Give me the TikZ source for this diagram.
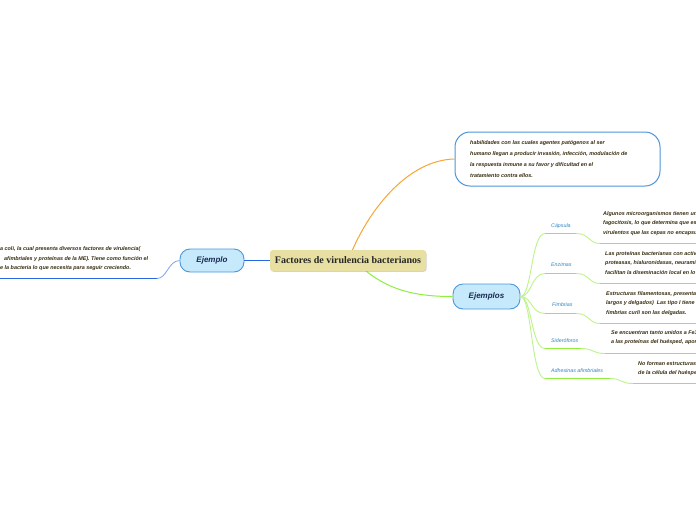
\documentclass[tikz,border=0pt]{standalone}
\usepackage{fontspec}
\setmainfont{Liberation Sans}
\newfontfamily\titlefont{Liberation Serif}
\usetikzlibrary{shadows}
\definecolor{txt}{HTML}{352B0E}
\definecolor{navy}{HTML}{1B2A52}
\definecolor{boxblue}{HTML}{4A97DA}
\definecolor{lightblue}{HTML}{C6E9FB}
\definecolor{labblue}{HTML}{2F86C6}
\definecolor{orangeline}{HTML}{F7A535}
\definecolor{blueline}{HTML}{2A68E2}
\definecolor{greenline}{HTML}{8EEF3E}
\definecolor{palegreen}{HTML}{BDF38A}
\definecolor{khaki}{HTML}{E7E0A2}
\tikzset{
  bodytext/.style={font=\fontsize{5.4}{9.2}\selectfont\bfseries\itshape, text=txt, align=left, inner sep=0pt},
  toptext/.style={font=\fontsize{5.4}{11}\selectfont\bfseries\itshape, text=txt, align=left, inner sep=0pt},
  sublabel/.style={font=\fontsize{5.3}{6}\selectfont\itshape, text=labblue, inner sep=0pt},
  topicbox/.style={draw=boxblue, line width=0.9pt, fill=lightblue, rounded corners=10pt,
     font=\fontsize{8}{9}\selectfont\bfseries\itshape, text=navy, inner sep=0pt},
  centralbox/.style={fill=khaki, rounded corners=3pt, drop shadow={shadow xshift=0.6pt, shadow yshift=-0.8pt, opacity=0.35},
     font=\titlefont\fontsize{10}{11}\selectfont\bfseries, text=black!85, inner sep=0pt},
  notebox/.style={draw=boxblue, line width=1pt, fill=white, rounded corners=15pt, inner sep=0pt},
  branch/.style={palegreen, line width=0.9pt},
  uline/.style={greenline, line width=1.8pt},
}
\begin{document}
\begin{tikzpicture}[x=1pt,y=-1pt]
\clip (0,0) rectangle (696,520);
\fill[white] (0,0) rectangle (696,520);

\coordinate (cTop) at (352,251);
\coordinate (cBot) at (366,271);

% note box
\node[notebox, minimum width=205pt, minimum height=54pt] (note) at (557.5,159) {};
\node[toptext, anchor=north west] (notetext) at (470,140.3)
 {habilidades con las cuales agentes pat\'ogenos al ser\\
  humano llegan a producir invasi\'on, infecci\'on, modulaci\'on de\\
  la respuesta inmune a su favor y dificultad en el\\
  tratamiento contra ellos.};

\node[topicbox, minimum width=64pt, minimum height=23pt] (ej) at (212,260.5) {Ejemplo};
\node[topicbox, minimum width=67pt, minimum height=25pt] (ejs) at (486.5,296.5) {Ejemplos};

% left text
\node[bodytext, anchor=north west] (lefttext) at (0,246.8)
 {a coli, la cual presenta diversos factores de virulencia(\\
  \hspace*{4pt}afimbriales y prote\'inas de la ME). Tiene como funci\'on el\\
  e la bacteria lo que necesita para seguir creciendo.};
\coordinate (leftend) at (0,278.5);
\coordinate (leftknee) at (157,278.5);

\draw[orangeline, line width=1pt] (cTop) .. controls (372,205) and (410,160) .. (note.west);
\draw[blueline, line width=0.9pt] (348,260.5) -- (ej.east);
\draw[blueline!60, line width=0.8pt] (ej.west) .. controls (168,261) and (167,278.5) .. (leftknee);
\draw[blueline, line width=1.4pt] (leftknee) -- (leftend);
\draw[greenline, line width=1pt] (cBot) .. controls (392,292) and (420,296.5) .. (ejs.west);

\node[centralbox, minimum width=156pt, minimum height=21pt] (central) at (348,260.5) {Factores de virulencia bacterianos};

% sub labels
\node[sublabel, anchor=base west] (capsula) at (551,227) {C\'apsula};
\node[sublabel, anchor=base west] (enzimas) at (551,266) {Enzimas};
\node[sublabel, anchor=base west] (fimbrias) at (552,306) {Fimbrias};
\node[sublabel, anchor=base west] (sidero) at (551,342) {Sider\'oforos};
\node[sublabel, anchor=base west] (adhes) at (551,372) {Adhesinas afimbriales};

\coordinate (capA) at (545,233.5); \coordinate (capB) at (576,233.5);
\coordinate (enzA) at (545,273.5); \coordinate (enzB) at (576,273.5);
\coordinate (fimA) at (545,313.5); \coordinate (fimB) at (576,313.5);
\coordinate (sidA) at (545,348.5); \coordinate (sidB) at (581,348.5);
\coordinate (adhA) at (545,378.5); \coordinate (adhB) at (610,378.5);

\foreach \a in {capA,enzA,fimA,sidA,adhA}{
  \draw[branch] (ejs.east) .. controls (532,296.5) and (531,0|-\a) .. (\a);
}
\draw[uline] (capA) -- (capB);
\draw[uline] (enzA) -- (enzB);
\draw[uline] (fimA) -- (fimB);
\draw[uline] (sidA) -- (sidB);
\draw[uline] (adhA) -- (adhB);

% detail texts
\node[bodytext, anchor=north west] (captext) at (603,211.5)
 {Algunos microorganismos tienen una c\\
  fagocitosis, lo que determina que es\\
  virulentos que las cepas no encapsul};
\node[bodytext, anchor=north west] (enztext) at (605,251.5)
 {Las prote\'inas bacterianas con activ\\
  proteasas, hialuronidasas, neuramini\\
  facilitan la diseminaci\'on local en lo};
\node[bodytext, anchor=north west] (fimtext) at (606,291.5)
 {Estructuras filamentosas, presentan\\
  largos y delgados)\ \ Las tipo I tiene\\
  fimbrias curli son las delgadas.};
\node[bodytext, anchor=north west] (sidtext) at (611,330.5)
 {Se encuentran tanto unidos a Fe3\\
  a las prote\'inas del hu\'esped, apor};
\node[bodytext, anchor=north west] (adhtext) at (638,361.5)
 {No forman estructuras\\
  de la c\'elula del hu\'esped};

\coordinate (capC) at (600,243.5); \coordinate (capD) at (696,243.5);
\coordinate (enzC) at (600,283.5); \coordinate (enzD) at (696,283.5);
\coordinate (fimC) at (600,323.5); \coordinate (fimD) at (696,323.5);
\coordinate (sidC) at (605,353.5); \coordinate (sidD) at (696,353.5);
\coordinate (adhC) at (633,383.5); \coordinate (adhD) at (696,383.5);

\draw[branch] (capB) .. controls (590,233.5) and (588,243.5) .. (capC);
\draw[branch] (enzB) .. controls (590,273.5) and (588,283.5) .. (enzC);
\draw[branch] (fimB) .. controls (590,313.5) and (588,323.5) .. (fimC);
\draw[branch] (sidB) .. controls (594,348.5) and (592,353.5) .. (sidC);
\draw[branch] (adhB) .. controls (622,378.5) and (620,383.5) .. (adhC);
\draw[uline] (capC) -- (capD);
\draw[uline] (enzC) -- (enzD);
\draw[uline] (fimC) -- (fimD);
\draw[uline] (sidC) -- (sidD);
\draw[uline] (adhC) -- (adhD);
\end{tikzpicture}
\end{document}
